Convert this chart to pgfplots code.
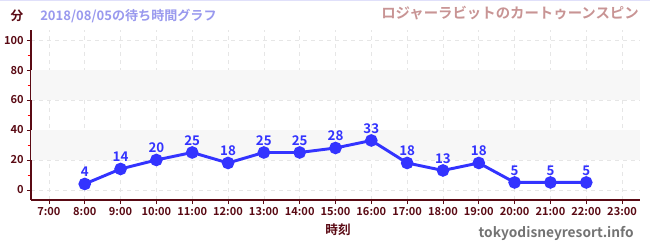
\documentclass[border=0pt]{standalone}
\usepackage{fontspec}
\setmainfont{Noto Sans CJK JP}[BoldFont={Noto Sans CJK JP Bold}]
\usepackage{pgfplots}
\pgfplotsset{compat=1.18}

\definecolor{axred}{HTML}{5A0A14}
\definecolor{lineblue}{HTML}{3333FF}
\definecolor{subblue}{HTML}{9999EE}
\definecolor{titlepink}{HTML}{C89494}
\definecolor{bandgray}{HTML}{F7F7F7}
\definecolor{gridgray}{HTML}{E6E6E6}

% 1px = 0.75pt, axis box from x=31..640 px, y=30..200 px
\newcommand{\px}[2]{({0.75*(#1-31)*1pt},{0.75*(200-#2)*1pt})}

\begin{document}
\begin{tikzpicture}
\begin{axis}[
    at={(0,0)}, anchor=south west,
    scale only axis,
    width=456.75pt, height=127.5pt,
    xmin=6.5, xmax=23.5,
    ymin=-6.7, ymax=106.7,
    axis x line*=bottom, axis y line*=left,
    axis line style={axred, line width=1.1pt},
    xtick={7,...,23},
    xticklabels={7:00,8:00,9:00,10:00,11:00,12:00,13:00,14:00,15:00,16:00,17:00,18:00,19:00,20:00,21:00,22:00,23:00},
    ytick={0,20,...,100},
    minor ytick={10,30,...,90},
    tick style={axred, line width=0.6pt},
    minor tick style={red, line width=0.6pt},
    major tick length=3pt, minor tick length=2.5pt,
    tick align=outside,
    grid=major,
    major grid style={gridgray, dashed, line width=0.5pt},
    ticklabel style={font=\bfseries\fontsize{8.3}{9}\selectfont, text=axred},
    /pgf/number format/assume math mode=true,
    xticklabel style={yshift=1pt},
    yticklabel style={xshift=1pt},
    clip=false,
    nodes near coords,
    every node near coord/.append style={font=\bfseries\fontsize{10}{11}\selectfont, text=lineblue, yshift=1pt},
]
\addplot[draw=none, fill=bandgray, forget plot, nodes near coords={}] coordinates {(6.5,20)(23.5,20)(23.5,40)(6.5,40)} -- cycle;
\addplot[draw=none, fill=bandgray, forget plot, nodes near coords={}] coordinates {(6.5,60)(23.5,60)(23.5,80)(6.5,80)} -- cycle;
\addplot[lineblue, line width=2.2pt, mark=*, mark size=3.6pt, mark options={fill=lineblue, draw=lineblue}] coordinates {
(8,4)(9,14)(10,20)(11,25)(12,18)(13,25)(14,25)(15,28)(16,33)(17,18)(18,13)(19,18)(20,5)(21,5)(22,5)
};
\end{axis}
\pgfresetboundingbox
\path[use as bounding box] \px{0}{250} rectangle \px{650}{0};
\draw[subblue!30, line width=0.8pt] \px{0}{0.5} -- \px{650}{0.5};
\node[anchor=center, text=axred, font=\bfseries\fontsize{9.5}{10}\selectfont] at \px{17}{16} {分};
\node[anchor=west, text=subblue, font=\bfseries\fontsize{9.8}{11}\selectfont, inner sep=0pt] at \px{40}{16} {2018/08/05の待ち時間グラフ};
\node[anchor=east, text=titlepink, font=\bfseries\fontsize{10.8}{12}\selectfont, inner sep=0pt] at \px{639}{13} {ロジャーラビットのカートゥーンスピン};
\node[anchor=center, text=axred, font=\bfseries\fontsize{9.5}{10}\selectfont] at \px{338}{230} {時刻};
\node[anchor=east, text=black!55, font=\bfseries\fontsize{10.3}{12}\selectfont, inner sep=0pt] at \px{634}{233} {tokyodisneyresort.info};
\end{tikzpicture}
\end{document}
